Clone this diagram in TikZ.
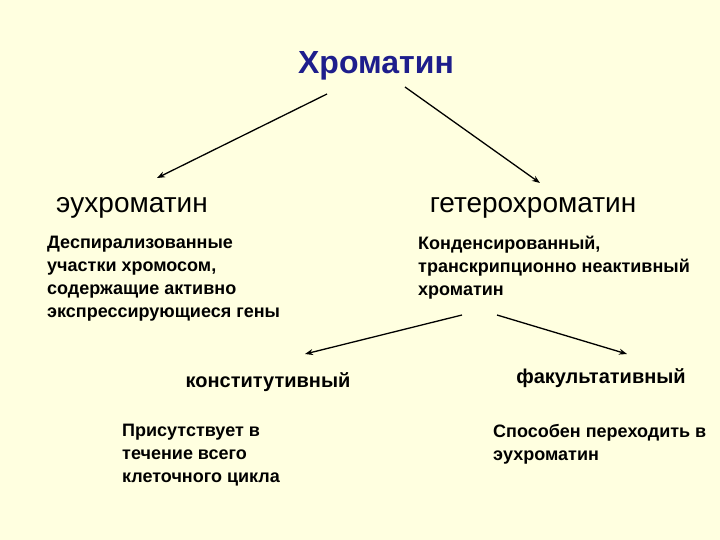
\documentclass[tikz,border=0pt]{standalone}
\usepackage{fontspec}
\setmainfont{Liberation Sans}
\usetikzlibrary{arrows.meta}
\definecolor{slidebg}{RGB}{255,255,224}
\definecolor{titleblue}{RGB}{30,30,140}

\begin{document}
\begin{tikzpicture}[x=1pt,y=-1pt,>={Stealth[length=8pt,width=6pt]}]
    \tikzstyle{title}=[text=titleblue,inner sep=0pt,font=\fontsize{32}{36}\selectfont\bfseries]
    \tikzstyle{kind}=[inner sep=0pt,font=\fontsize{28}{32}\selectfont]
    \tikzstyle{subkind}=[inner sep=0pt,font=\fontsize{20}{24}\selectfont\bfseries]
    \tikzstyle{note}=[inner sep=0pt,anchor=north west,align=left,font=\fontsize{18}{23}\selectfont\bfseries]
    \tikzstyle{link}=[->,line width=1.3pt]

    \fill[slidebg] (0,0) rectangle (720,540);
    \useasboundingbox (0,0) rectangle (720,540);

    \node[title] (chr) at (376,66) {Хроматин};

    \node[kind] (eu) at (132,208) {эухроматин};
    \node[kind] (hetero) at (533,208) {гетерохроматин};

    \node[note] (eu-note) at (47,236) {Деспирализованные\\участки хромосом,\\содержащие активно\\экспрессирующиеся гены};
    \node[note] (hetero-note) at (418,236) {Конденсированный,\\транскрипционно неактивный\\хроматин};

    \node[subkind] (const) at (268,382) {конститутивный};
    \node[subkind] (fac) at (601,378) {факультативный};

    \node[note] (const-note) at (122,424) {Присутствует в\\течение всего\\клеточного цикла};
    \node[note] (fac-note) at (493,424) {Способен переходить в\\эухроматин};

    % ends of the arrows
    \coordinate (chr-l) at (327,94);
    \coordinate (chr-r) at (405,87);
    \coordinate (eu-in) at (157,178);
    \coordinate (hetero-in) at (540,183);
    \coordinate (hetero-l) at (462,315);
    \coordinate (hetero-r) at (497,315);
    \coordinate (const-in) at (305,354);
    \coordinate (fac-in) at (627,354);

    \draw[link] (chr-l) -- (eu-in);
    \draw[link] (chr-r) -- (hetero-in);
    \draw[link] (hetero-l) -- (const-in);
    \draw[link] (hetero-r) -- (fac-in);

\end{tikzpicture}
\end{document}
